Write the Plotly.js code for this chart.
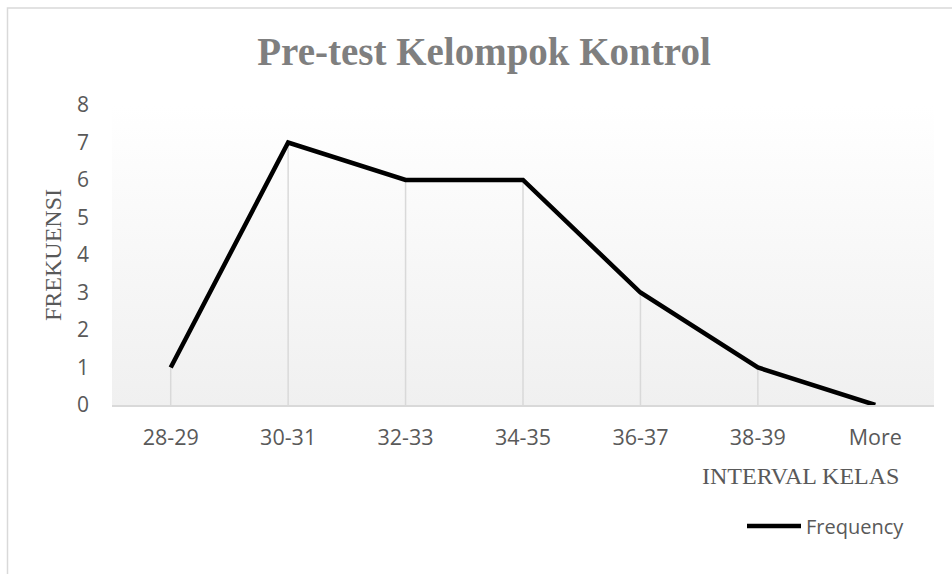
<!DOCTYPE html>
<html>
<head>
<meta charset="utf-8">
<script src="https://cdn.plot.ly/plotly-3.0.1.min.js"></script>
<style>html,body{margin:0;padding:0;background:#fff;}#chart{width:952px;height:574px;}</style>
</head>
<body>
<div id="chart"></div>
<script>
const categories = ["28-29", "30-31", "32-33", "34-35", "36-37", "38-39", "More"];
const frequency = [1, 7, 6, 6, 3, 1, 0];
const yTicks = [0, 1, 2, 3, 4, 5, 6, 7, 8];

const zeros = frequency.map(() => 0);

const gradSvg = '<svg xmlns="http://www.w3.org/2000/svg" width="100" height="100" preserveAspectRatio="none">' +
  '<defs><linearGradient id="g" x1="0" y1="0" x2="0" y2="1">' +
  '<stop offset="0" stop-color="#ffffff"/><stop offset="1" stop-color="#f0f0f0"/></linearGradient></defs>' +
  '<rect width="100" height="100" fill="url(#g)"/></svg>';
const gradUri = 'data:image/svg+xml;base64,' + btoa(gradSvg);

const traces = [
  {
    x: categories, y: frequency, type: 'scatter', mode: 'markers',
    marker: {size: 1, color: 'rgba(0,0,0,0)'},
    error_y: {type: 'data', symmetric: false, array: zeros, arrayminus: frequency,
              width: 0, thickness: 1.5, color: '#d9d9d9'},
    showlegend: false, hoverinfo: 'skip'
  },
  {
    x: categories, y: frequency, type: 'scatter', mode: 'lines',
    name: 'Frequency',
    line: {color: '#000000', width: 4.5}
  }
];

const layout = {
  width: 952, height: 574,
  margin: {l: 112, r: 18, t: 105, b: 169},
  paper_bgcolor: '#ffffff',
  plot_bgcolor: 'rgba(0,0,0,0)',
  title: {
    text: 'Pre-test Kelompok Kontrol',
    font: {family: 'Liberation Serif, Times New Roman, serif', size: 39, color: '#7f7f7f', weight: 'bold'},
    x: 484 / 952, xanchor: 'center', xref: 'container',
    y: 1 - 51/574, yanchor: 'middle', yref: 'container'
  },
  xaxis: {
    type: 'category', range: [-0.5, 6.5],
    showgrid: false, zeroline: false,
    showline: true, linecolor: '#d9d9d9', linewidth: 1.5,
    ticks: '', ticklabelstandoff: 13,
    tickfont: {family: 'Open Sans, sans-serif', size: 21.5, color: '#595959'}
  },
  yaxis: {
    range: [0, 8], tickvals: yTicks, ticktext: yTicks.map(String),
    showgrid: false, zeroline: false, showline: false,
    ticks: '', ticklabelstandoff: 22,
    tickfont: {family: 'Open Sans, sans-serif', size: 21, color: '#595959'},
    title: {text: 'FREKUENSI', standoff: 8,
            font: {family: 'Liberation Serif, Times New Roman, serif', size: 24, color: '#595959'}}
  },
  annotations: [{
    text: 'INTERVAL KELAS', xref: 'paper', yref: 'paper',
    x: (800 - 112) / 822, y: (405 - 476) / 300, xanchor: 'center', yanchor: 'middle',
    showarrow: false,
    font: {family: 'Liberation Serif, Times New Roman, serif', size: 24, color: '#595959'}
  }],
  showlegend: true,
  legend: {
    x: (742 - 112) / 822, y: (405 - 526) / 300, xanchor: 'left', yanchor: 'middle',
    xref: 'paper', yref: 'paper',
    bgcolor: 'rgba(0,0,0,0)', itemwidth: 54,
    font: {family: 'Open Sans, sans-serif', size: 20, color: '#595959'}
  },
  images: [{
    source: gradUri, xref: 'paper', yref: 'paper',
    x: 0, y: 1, sizex: 1, sizey: 1, sizing: 'stretch',
    xanchor: 'left', yanchor: 'top', layer: 'below'
  }],
  shapes: [{
    type: 'rect', xref: 'paper', yref: 'paper',
    x0: (7.5 - 112) / 822, x1: 1.2, y0: -0.8, y1: (405 - 8) / 300,
    line: {color: '#d9d9d9', width: 1.5}, fillcolor: 'rgba(0,0,0,0)', layer: 'below'
  }]
};

Plotly.newPlot('chart', traces, layout, {displayModeBar: false, staticPlot: true});
</script>
</body>
</html>
